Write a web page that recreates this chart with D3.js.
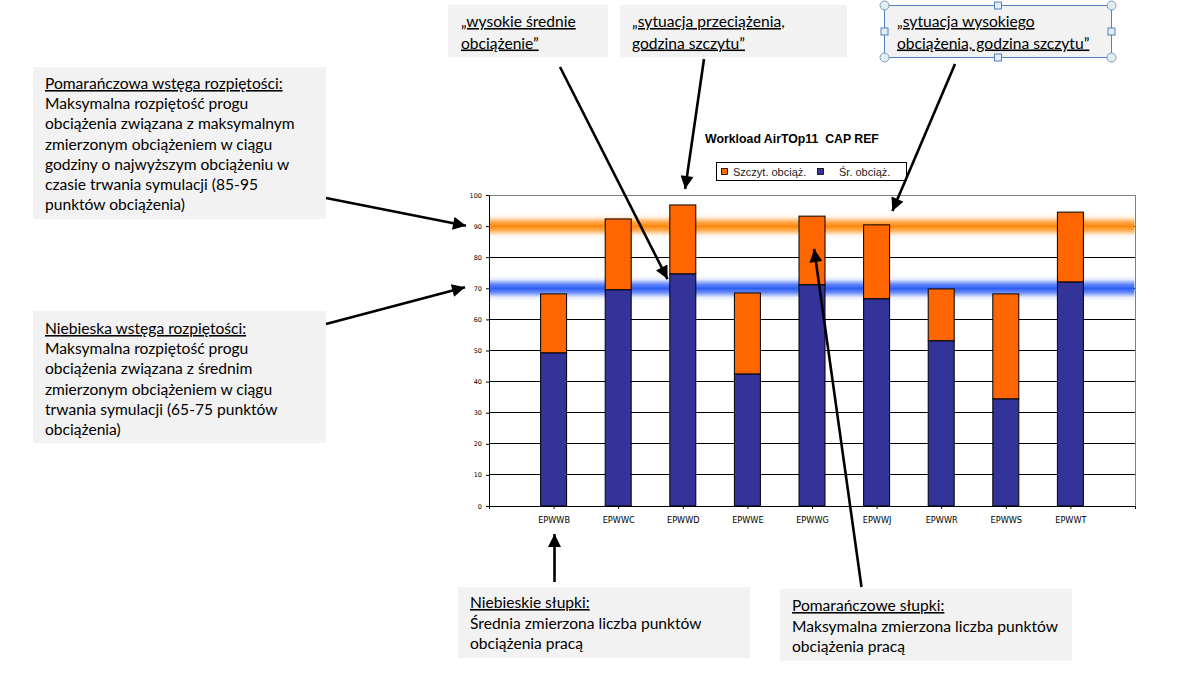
<!DOCTYPE html>
<html><head><meta charset="utf-8">
<script src="https://cdn.jsdelivr.net/npm/d3@7"></script>
<style>
html,body{margin:0;padding:0;background:#fff;}
svg{display:block;}
</style></head>
<body>
<svg id="chart" width="1193" height="679"></svg>
<script>
// ---- data ----
const categories = ["EPWWB","EPWWC","EPWWD","EPWWE","EPWWG","EPWWJ","EPWWR","EPWWS","EPWWT"];
const peakLoad = [68.2, 92.3, 96.8, 68.5, 93.2, 90.4, 69.8, 68.2, 94.5];   // Szczyt. obciąż.
const avgLoad  = [49.2, 69.5, 74.6, 42.4, 71.1, 66.6, 53.1, 34.4, 72.0];   // Śr. obciąż.
const yTicks = [0,10,20,30,40,50,60,70,80,90,100];
const seriesNames = ["Szczyt. obciąż.", "Śr. obciąż."];
const bandCenters = [90, 70];
const chartTitle = "Workload AirTOp11  CAP REF";

const notes = [
  {x:33,y:67,w:293,h:152,tx:45,ty:89,lh:20.2,ul:[0],lines:["Pomarańczowa wstęga rozpiętości:","Maksymalna rozpiętość progu","obciążenia związana z maksymalnym","zmierzonym obciążeniem w ciągu","godziny o najwyższym obciążeniu w","czasie trwania symulacji (85-95","punktów obciążenia)"]},
  {x:33,y:311,w:293,h:132,tx:45,ty:334,lh:20.2,ul:[0],lines:["Niebieska wstęga rozpiętości:","Maksymalna rozpiętość progu","obciążenia związana z średnim","zmierzonym obciążeniem w ciągu","trwania symulacji (65-75 punktów","obciążenia)"]},
  {x:448,y:5,w:160,h:52,tx:461,ty:27,lh:21.5,ul:[0,1],lines:["„wysokie średnie","obciążenie”"]},
  {x:620,y:5,w:227,h:52,tx:632,ty:27,lh:21.5,ul:[0,1],lines:["„sytuacja przeciążenia,","godzina szczytu”"]},
  {x:884,y:5,w:227,h:52,tx:897,ty:27,lh:21.5,ul:[0,1],lines:["„sytuacja wysokiego","obciążenia, godzina szczytu”"],sel:true},
  {x:458,y:587,w:292,h:71,tx:470,ty:608,lh:20.5,ul:[0],lines:["Niebieskie słupki:","Średnia zmierzona liczba punktów","obciążenia pracą"]},
  {x:780,y:589,w:292,h:72,tx:792,ty:611,lh:20.5,ul:[0],lines:["Pomarańczowe słupki:","Maksymalna zmierzona liczba punktów","obciążenia pracą"]}
];

const svg = d3.select("#chart");
const pL = 489, pR = 1135, pT = 195, pB = 506;

const x = d3.scalePoint().domain(categories).range([pL, pR]).padding(1);
const y = d3.scaleLinear().domain([0,100]).range([pB, pT]);
const barW = 26;

// defs
const defs = svg.append("defs");
function bandGrad(id, col){
  const g = defs.append("linearGradient").attr("id", id).attr("x1",0).attr("x2",0).attr("y1",0).attr("y2",1);
  [[0,0],[0.15,0.1],[0.35,0.75],[0.5,1],[0.65,0.75],[0.85,0.1],[1,0]].forEach(([o,a])=>{
    g.append("stop").attr("offset",o).attr("stop-color",col).attr("stop-opacity",a);
  });
}
bandGrad("gOrange","#ff8a10");
bandGrad("gBlue","#2f5ff5");
const mk = defs.append("marker").attr("id","arr").attr("viewBox","0 0 10 10").attr("refX",10).attr("refY",5)
  .attr("markerWidth",5.5).attr("markerHeight",5).attr("markerUnits","strokeWidth").attr("orient","auto");
mk.append("path").attr("d","M0,0 L10,5 L0,10 Z").attr("fill","#000");

// gridlines
svg.append("g").selectAll("line").data(yTicks.filter(d=>d>0 && d<100)).join("line")
  .attr("x1",pL).attr("x2",pR).attr("y1",d=>y(d)).attr("y2",d=>y(d))
  .attr("stroke","#000").attr("stroke-width",1).attr("shape-rendering","crispEdges");
// plot border top/right
svg.append("path").attr("d",`M${pL},${y(100)}H${pR}V${pB}`).attr("fill","none")
  .attr("stroke","#808080").attr("stroke-width",1).attr("shape-rendering","crispEdges");

// bands
svg.append("g").selectAll("rect").data(bandCenters).join("rect")
  .attr("x",pL+0.5).attr("width",pR-pL-1)
  .attr("y",d=>y(d+4.2)).attr("height",d=>y(d-4.2)-y(d+4.2))
  .attr("fill",(d,i)=>i===0?"url(#gOrange)":"url(#gBlue)");

// bars
const bars = svg.append("g");
bars.selectAll("rect.peak").data(categories).join("rect").attr("class","peak")
  .attr("x",d=>x(d)-barW/2).attr("width",barW)
  .attr("y",(d,i)=>y(peakLoad[i])).attr("height",(d,i)=>y(avgLoad[i])-y(peakLoad[i]))
  .attr("fill","#ff6600").attr("stroke","#000").attr("stroke-width",1);
bars.selectAll("rect.avg").data(categories).join("rect").attr("class","avg")
  .attr("x",d=>x(d)-barW/2).attr("width",barW)
  .attr("y",(d,i)=>y(avgLoad[i])).attr("height",(d,i)=>y(0)-y(avgLoad[i]))
  .attr("fill","#333399").attr("stroke","#000").attr("stroke-width",1);

// axes
const yAxis = svg.append("g").attr("transform",`translate(${pL},0)`)
  .call(d3.axisLeft(y).tickValues(yTicks).tickSize(3).tickSizeOuter(0));
yAxis.select(".domain").attr("stroke","#000");
yAxis.selectAll("text").attr("font-family","DejaVu Sans, Verdana, sans-serif").attr("font-size","6.5px").attr("fill","#000").attr("x",-7);
yAxis.selectAll(".tick line").attr("stroke","#000");

const xAxis = svg.append("g").attr("transform",`translate(0,${pB})`)
  .call(d3.axisBottom(x).tickSize(3).tickSizeOuter(3).tickPadding(8));
xAxis.select(".domain").attr("stroke","#000");
xAxis.selectAll(".tick line").attr("stroke","#000");
xAxis.selectAll("text").attr("font-family","DejaVu Sans, Verdana, sans-serif").attr("font-size","8.2px").attr("fill","#000");

// title
svg.append("text").attr("x",792).attr("y",143).attr("text-anchor","middle")
  .attr("font-family","Liberation Sans, Arial, sans-serif").attr("font-weight","bold").attr("font-size","12.3px")
  .attr("fill","#000").style("white-space","pre").attr("xml:space","preserve").text(chartTitle);

// legend
const lg = svg.append("g");
lg.append("rect").attr("x",716.5).attr("y",162.5).attr("width",190).attr("height",18).attr("fill","#fff").attr("stroke","#000").attr("stroke-width",1);
const legX = [721, 817], legTX = [733, 839];
["#ff6600","#333399"].forEach((c,i)=>{
  lg.append("rect").attr("x",legX[i]+0.5).attr("y",168.5).attr("width",6).attr("height",6).attr("fill",c).attr("stroke","#000").attr("stroke-width",0.8);
  lg.append("text").attr("x",legTX[i]).attr("y",175.8).attr("font-family","Liberation Sans, Arial, sans-serif")
    .attr("font-size","11px").attr("fill","#222").text(seriesNames[i]);
});

// notes
const ng = svg.append("g");
notes.forEach(n=>{
  ng.append("rect").attr("x",n.x).attr("y",n.y).attr("width",n.w).attr("height",n.h).attr("fill","#f2f2f2");
  n.lines.forEach((t,i)=>{
    ng.append("text").attr("x",n.tx).attr("y",n.ty+i*n.lh)
      .attr("font-family","Lato, 'Open Sans', sans-serif").attr("font-size","15.6px").attr("fill","#000")
      .style("text-decoration", n.ul.includes(i)?"underline":"none")
      .text(t);
  });
  if(n.sel){
    ng.append("rect").attr("x",n.x+0.5).attr("y",n.y+0.5).attr("width",n.w).attr("height",n.h).attr("fill","none").attr("stroke","#4f81bd").attr("stroke-width",1);
    const cx=[n.x,n.x+n.w], cy=[n.y,n.y+n.h];
    cx.forEach(a=>cy.forEach(b=>{
      ng.append("circle").attr("cx",a+0.5).attr("cy",b+0.5).attr("r",4.5).attr("fill","#e4edf3").attr("stroke","#7b9cb8").attr("stroke-width",1);
    }));
    [[n.x+n.w/2,n.y],[n.x+n.w/2,n.y+n.h],[n.x,n.y+n.h/2],[n.x+n.w,n.y+n.h/2]].forEach(([a,b])=>{
      ng.append("rect").attr("x",a-3).attr("y",b-3).attr("width",7).attr("height",7).attr("fill","#e4edf3").attr("stroke","#4f81bd").attr("stroke-width",1);
    });
  }
});

// arrows (start -> tip)
const arrows = [
  [326,198,467,226],
  [326,324,466,287],
  [560,67,668,280],
  [704,59,685,190],
  [955,64,892,212],
  [554.5,582,554.5,533],
  [861.5,587,814,248]
];
svg.append("g").selectAll("line").data(arrows).join("line")
  .attr("x1",d=>d[0]).attr("y1",d=>d[1])
  .attr("x2",d=>{const dx=d[2]-d[0],dy=d[3]-d[1],L=Math.hypot(dx,dy);return d[2]-dx/L*1;})
  .attr("y2",d=>{const dx=d[2]-d[0],dy=d[3]-d[1],L=Math.hypot(dx,dy);return d[3]-dy/L*1;})
  .attr("stroke","#000").attr("stroke-width",2.6).attr("marker-end","url(#arr)");
</script>
</body></html>
